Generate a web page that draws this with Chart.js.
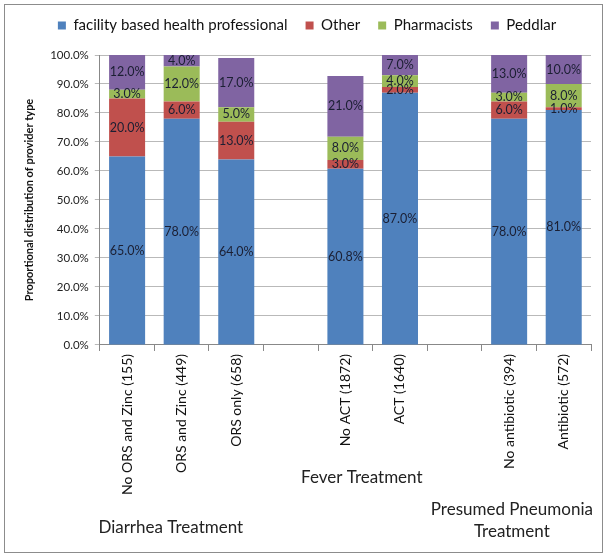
<!DOCTYPE html>
<html>
<head>
<meta charset="utf-8">
<script src="https://cdn.jsdelivr.net/npm/chart.js@4"></script>
<style>
    html, body { margin: 0; padding: 0; background: #fff; }
    #wrap { position: relative; width: 610px; height: 558px; }
    #frame { position: absolute; left: 4px; top: 4px; width: 597px; height: 547px; border: 1px solid #8c8c8c; pointer-events: none; }
</style>
</head>
<body>
<div id="wrap">
    <canvas id="chart" width="610" height="558"></canvas>
    <div id="frame"></div>
</div>
<script>
// categories (blank slots are the gaps between treatment groups)
var categories = ["No ORS and Zinc (155)", "ORS and Zinc (449)", "ORS only (658)", "",
    "No ACT (1872)", "ACT (1640)", "", "No antibiotic (394)", "Antibiotic (572)"];

// series values, percent of providers
var facility = [65.0, 78.0, 64.0, null, 60.8, 87.0, null, 78.0, 81.0];
var other = [20.0, 6.0, 13.0, null, 3.0, 2.0, null, 6.0, 1.0];
var pharmacists = [3.0, 12.0, 5.0, null, 8.0, 4.0, null, 3.0, 8.0];
var peddlar = [12.0, 4.0, 17.0, null, 21.0, 7.0, null, 13.0, 10.0];

var seriesNames = ["facility based health professional", "Other", "Pharmacists", "Peddlar"];
var groupNames = ["Diarrhea Treatment", "Fever Treatment", ["Presumed Pneumonia", "Treatment"]];

var FONT = "Lato";

/**
 * Writes each segment's value in the middle of it
 */
var segmentLabels = {
    id: "segmentLabels",
    afterDatasetsDraw(chart) {
        var ctx = chart.ctx;
        ctx.save();
        ctx.font = "12.5px " + FONT;
        ctx.fillStyle = "#1b1f33";
        ctx.textAlign = "center";
        ctx.textBaseline = "middle";
        chart.data.datasets.forEach((ds, i) => {
            chart.getDatasetMeta(i).data.forEach((bar, j) => {
                var v = ds.data[j];
                if (v == null)
                    return;
                var p = bar.getProps(["x", "y", "base"], true);
                ctx.fillText(v.toFixed(1) + "%", p.x, (p.y + p.base) / 2);
            });
        });
        ctx.restore();
    }
};

/**
 * Group names under the category labels
 * at: category index (can be fractional), dy: offset below the plot area
 */
var groupLabels = {
    id: "groupLabels",
    afterDraw(chart, args, opts) {
        var ctx = chart.ctx;
        var x = chart.scales.x;
        var bottom = chart.chartArea.bottom;
        ctx.save();
        ctx.font = "17px " + FONT;
        ctx.fillStyle = "#222";
        ctx.textAlign = "center";
        ctx.textBaseline = "middle";
        opts.places.forEach((pl, i) => {
            var lines = [].concat(groupNames[i]);
            lines.forEach((line, k) => {
                ctx.fillText(line, x.getPixelForValue(pl.at), bottom + pl.dy + k * 22);
            });
        });
        ctx.restore();
    }
};

// extra space between legend and plot
var legendGap = {
    id: "legendGap",
    beforeInit(chart) {
        var fit = chart.legend.fit;
        chart.legend.fit = function () {
            fit.bind(chart.legend)();
            this.height += 12;
        };
    }
};

var colors = ["#4f81bd", "#c0504d", "#9bbb59", "#8064a2"];
var values = [facility, other, pharmacists, peddlar];

var chart = new Chart(document.getElementById("chart"), {
    type: "bar",
    data: {
        labels: categories,
        datasets: values.map((d, i) => ({
            label: seriesNames[i],
            data: d,
            backgroundColor: colors[i],
            categoryPercentage: 1.0,
            barPercentage: 0.66
        }))
    },
    options: {
        responsive: false,
        animation: false,
        layout: { padding: { left: 23, right: 19, top: 0, bottom: 60 } },
        plugins: {
            legend: {
                position: "top",
                labels: {
                    boxWidth: 8,
                    boxHeight: 8,
                    padding: 18,
                    color: "#111",
                    font: { family: FONT, size: 15 }
                }
            },
            tooltip: { enabled: false },
            groupLabels: {
                places: [
                    { at: 0.8, dy: 183 },
                    { at: 4.3, dy: 133 },
                    { at: 7.05, dy: 165 }
                ]
            }
        },
        scales: {
            x: {
                stacked: true,
                grid: { drawOnChartArea: false, tickLength: 6, color: "#888" },
                border: { color: "#888" },
                ticks: {
                    autoSkip: false,
                    minRotation: 90,
                    maxRotation: 90,
                    color: "#111",
                    font: { family: FONT, size: 14 }
                }
            },
            y: {
                stacked: true,
                min: 0,
                max: 100,
                grid: { color: "#b9b9b9", tickLength: 5 },
                border: { color: "#888" },
                ticks: {
                    stepSize: 10,
                    padding: 6,
                    color: "#222",
                    font: { family: FONT, size: 11.5 },
                    callback: v => v.toFixed(1) + "%"
                },
                title: {
                    display: true,
                    text: "Proportional distribution of provider type",
                    color: "#111",
                    font: { family: FONT, size: 11, weight: "bold" },
                    padding: { top: 0, bottom: 8 }
                }
            }
        }
    },
    plugins: [segmentLabels, groupLabels, legendGap]
});
</script>
</body>
</html>
